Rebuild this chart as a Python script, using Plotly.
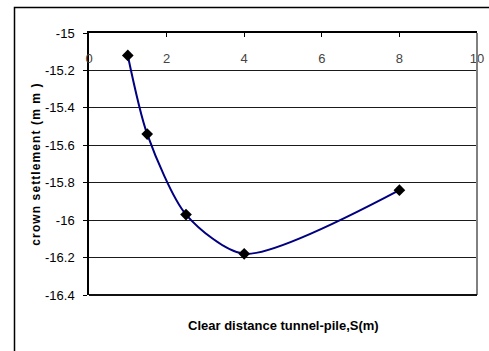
import plotly.graph_objects as go

# Clear distance between tunnel and pile (m) and crown settlement (mm)
clear_distance = [1.0, 1.5, 2.5, 4.0, 8.0]
crown_settlement = [-15.12, -15.54, -15.97, -16.18, -15.84]

x_ticks = [0, 2, 4, 6, 8, 10]
y_ticks = [-15, -15.2, -15.4, -15.6, -15.8, -16, -16.2, -16.4]

W, H = 489, 351
ML, MR, MT, MB = 89, 12, 33, 56
pw, ph = W - ML - MR, H - MT - MB

def px_to_paper(px, py):
    return (px - ML) / pw, (H - MB - py) / ph

fig = go.Figure()
fig.add_trace(go.Scatter(
    x=clear_distance, y=crown_settlement,
    mode="lines+markers",
    line=dict(color="#000080", width=2, shape="spline", smoothing=0.75),
    marker=dict(symbol="diamond", size=9, color="black"),
    showlegend=False, hoverinfo="x+y",
))

font_family = "Liberation Sans, Arial, sans-serif"

fig.update_layout(
    width=W, height=H, autosize=False,
    margin=dict(l=ML, r=MR, t=MT, b=MB, pad=0, autoexpand=False),
    paper_bgcolor="white", plot_bgcolor="white",
    font=dict(family=font_family, size=13, color="black"),
    xaxis=dict(
        range=[0, 10], side="top", automargin=False,
        tickvals=x_ticks, ticktext=[str(v) for v in x_ticks],
        ticks="inside", ticklen=4, tickcolor="black", tickwidth=1,
        ticklabelposition="inside", ticklabeloverflow="allow",
        ticklabelstandoff=17,
        showgrid=False, zeroline=False,
        showline=True, linecolor="black", linewidth=1.5,
        tickfont=dict(size=13),
    ),
    yaxis=dict(
        range=[-16.4, -15], automargin=False,
        tickvals=y_ticks, ticktext=[f"{v:g}" for v in y_ticks],
        ticks="outside", ticklen=4, tickcolor="black", tickwidth=1,
        ticklabelstandoff=6,
        showgrid=True, gridcolor="#1a1a1a", gridwidth=1,
        zeroline=False,
        showline=True, linecolor="black", linewidth=1.5,
        tickfont=dict(size=13),
        title=dict(text="<b>crown settlement (m m )</b>",
                   font=dict(size=12), standoff=2),
    ),
)

# x-axis title below the plot area
tx, ty = px_to_paper(283, 325)
fig.add_annotation(
    x=0.5, y=ty, xref="paper", yref="paper",
    text="<b>Clear distance tunnel-pile,S(m)</b>",
    showarrow=False, font=dict(size=13), xanchor="center", yanchor="middle",
)

# plot-area frame on the right and bottom
fig.add_shape(type="line", xref="paper", yref="paper", x0=1, x1=1, y0=0, y1=1,
              line=dict(color="#808080", width=2))
fig.add_shape(type="line", xref="paper", yref="paper", x0=0, x1=1, y0=0, y1=0,
              line=dict(color="#111111", width=2))

# outer chart border: left and top edges as one open path
lx, ty0 = px_to_paper(14.5, 7.5)
rx, by = px_to_paper(W + 2, H + 2)
fig.add_shape(type="path", xref="paper", yref="paper",
              path=f"M {lx},{by} L {lx},{ty0} L {rx},{ty0}",
              line=dict(color="black", width=1.5), layer="below")

# widen the letter spacing of the vertical axis title
post = """
var gd = document.querySelector('.plotly-graph-div');
function spaceTitle(){
  document.querySelectorAll('.ytitle').forEach(function(e){
    e.style.letterSpacing = '1.1px';
  });
}
spaceTitle();
if (gd && gd.on) { gd.on('plotly_afterplot', spaceTitle); }
"""

fig.write_html("out.html", post_script=post,
               config={"responsive": False, "displayModeBar": False})
